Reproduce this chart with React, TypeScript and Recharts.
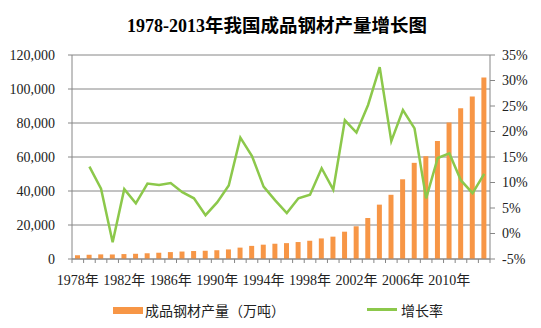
import { ComposedChart, Bar, Line, XAxis, YAxis, CartesianGrid } from 'recharts';

const years = [
  '1978', '1979', '1980', '1981', '1982', '1983', '1984', '1985', '1986', '1987', '1988', '1989',
  '1990', '1991', '1992', '1993', '1994', '1995', '1996', '1997', '1998', '1999', '2000', '2001',
  '2002', '2003', '2004', '2005', '2006', '2007', '2008', '2009', '2010', '2011', '2012', '2013',
];

// 成品钢材产量（万吨）
const output = [
  2208, 2497, 2716, 2670, 2902, 3072, 3372, 3693, 4058, 4386, 4689, 4859,
  5153, 5638, 6697, 7716, 8428, 8980, 9338, 9979, 10738, 12110, 13146, 16068,
  19252, 24108, 31976, 37771, 46893, 56561, 60460, 69405, 80277, 88620, 95578, 106762,
];

// 增长率 (%)
const growth: (number | null)[] = [
  null, 13.1, 8.8, -1.7, 8.7, 5.9, 9.8, 9.5, 9.9, 8.1, 6.9, 3.6,
  6.1, 9.4, 18.8, 15.2, 9.2, 6.5, 4.0, 6.9, 7.6, 12.8, 8.6, 22.2,
  19.8, 25.2, 32.6, 18.1, 24.2, 20.6, 6.9, 14.8, 15.7, 10.4, 7.9, 11.7,
];

const leftTicks = [0, 20000, 40000, 60000, 80000, 100000, 120000];
const rightTicks = [-5, 0, 5, 10, 15, 20, 25, 30, 35];

const data = years.map((y, i) => ({ year: y, output: output[i], growth: growth[i] }));

const ORANGE = '#F79646';
const GREEN = '#8CC84B';
const GRAY = '#868686';
const TEXT = '#222';
const SERIF = "'Liberation Serif', 'Noto Sans CJK SC', serif";
const CJK = "'Noto Sans CJK SC', sans-serif";

const XTick = (props: any) => {
  const { x, y, payload } = props;
  const index = props.index ?? payload.index;
  const half = payload.offset || 418 / 36 / 2;
  return (
    <g>
      <line x1={x - half} x2={x - half} y1={y} y2={y + 4} stroke={GRAY} />
      {index === years.length - 1 && (
        <line x1={x + half} x2={x + half} y1={y} y2={y + 4} stroke={GRAY} />
      )}
      {index % 4 === 0 && (
        <text x={x} y={y + 26} textAnchor="middle" fontSize={14} fontFamily={SERIF} fill={TEXT}>
          {payload.value}年
        </text>
      )}
    </g>
  );
};

export default function App() {
  return (
    <div style={{ position: 'absolute', left: 0, top: 0, width: 541, height: 328, background: '#fff' }}>
      <div
        style={{
          position: 'absolute',
          left: 127,
          top: 12,
          whiteSpace: 'nowrap',
          lineHeight: '24px',
          fontWeight: 'bold',
          color: '#000',
        }}
      >
        <span style={{ fontFamily: SERIF, fontSize: 18 }}>1978-2013</span>
        <span style={{ fontFamily: CJK, fontSize: 18.5 }}>年我国成品钢材产量增长图</span>
      </div>

      <ComposedChart width={541} height={328} data={data} margin={{ top: 55, right: 0, bottom: 39, left: 0 }}>
        <CartesianGrid vertical={false} stroke={GRAY} yAxisId="left" />
        <XAxis
          dataKey="year"
          height={30}
          interval={0}
          tickLine={false}
          tickSize={0}
          tickMargin={0}
          axisLine={{ stroke: GRAY }}
          tick={<XTick />}
        />
        <YAxis
          yAxisId="left"
          width={72}
          domain={[0, 120000]}
          ticks={leftTicks}
          tickFormatter={(v: number) => v.toLocaleString('en-US')}
          tickSize={4}
          tickMargin={13}
          axisLine={{ stroke: GRAY }}
          tickLine={{ stroke: GRAY }}
          tick={{ fontSize: 14, fontFamily: SERIF, fill: TEXT }}
        />
        <YAxis
          yAxisId="right"
          orientation="right"
          width={51}
          domain={[-5, 35]}
          ticks={rightTicks}
          tickFormatter={(v: number) => `${v}%`}
          tickSize={5}
          tickMargin={7}
          axisLine={{ stroke: GRAY }}
          tickLine={{ stroke: GRAY }}
          tick={{ fontSize: 14, fontFamily: SERIF, fill: TEXT }}
        />
        <Bar yAxisId="left" dataKey="output" fill={ORANGE} barSize={5} isAnimationActive={false} />
        <Line
          yAxisId="right"
          dataKey="growth"
          type="linear"
          stroke={GREEN}
          strokeWidth={2.5}
          dot={false}
          activeDot={false}
          isAnimationActive={false}
        />
      </ComposedChart>

      <div style={{ position: 'absolute', left: 113, top: 307, width: 30, height: 7, background: ORANGE }} />
      <div
        style={{
          position: 'absolute',
          left: 145,
          top: 300,
          fontFamily: CJK,
          fontSize: 14,
          lineHeight: '20px',
          color: TEXT,
          whiteSpace: 'nowrap',
        }}
      >
        成品钢材产量（万吨）
      </div>
      <div style={{ position: 'absolute', left: 367, top: 308, width: 30, height: 2.5, background: GREEN }} />
      <div
        style={{
          position: 'absolute',
          left: 401,
          top: 300,
          fontFamily: CJK,
          fontSize: 14,
          lineHeight: '20px',
          color: TEXT,
          whiteSpace: 'nowrap',
        }}
      >
        增长率
      </div>
    </div>
  );
}
